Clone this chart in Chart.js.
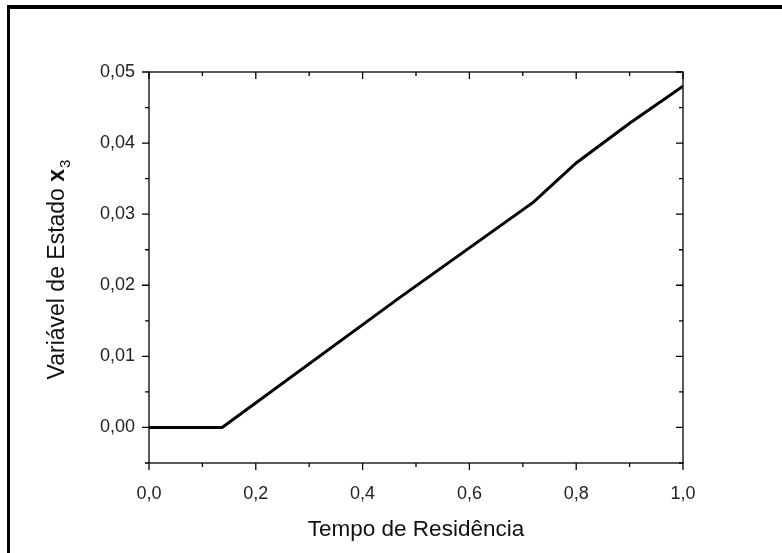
<!DOCTYPE html>
<html lang="pt">
<head>
    <meta charset="UTF-8">
    <title>Variável de Estado x3</title>
    <style>
        html, body {
            margin: 0;
            padding: 0;
            background: #fff;
            overflow: hidden;
        }
        .wrap {
            position: relative;
            width: 782px;
            height: 553px;
        }
        .frame {
            position: absolute;
            left: 7px;
            top: 5px;
            right: -20px;
            bottom: -20px;
            border-left: 3px solid #000;
            border-top: 4px solid #000;
            pointer-events: none;
        }
        canvas {
            position: absolute;
            left: 0;
            top: 0;
        }
    </style>
</head>
<body>
    <div class="wrap">
        <canvas id="chart" width="782" height="553"></canvas>
        <div class="frame"></div>
    </div>

    <script src="https://cdn.jsdelivr.net/npm/chart.js"></script>
    <script>
        // data
        const tempo = [0, 0.137, 0.47, 0.72, 0.8, 0.9, 1.0];
        const x3 = [0, 0, 0.0183, 0.0317, 0.0372, 0.0428, 0.048];

        // axis ticks
        const xMajor = [0, 0.2, 0.4, 0.6, 0.8, 1.0];
        const xMinor = [0.1, 0.3, 0.5, 0.7, 0.9];
        const yMajor = [0, 0.01, 0.02, 0.03, 0.04, 0.05];
        const yMinor = [-0.005, 0.005, 0.015, 0.025, 0.035, 0.045];

        const FONT = "'Liberation Sans', Arial, sans-serif";

        // frame + Origin style ticks (out on left/bottom, in on top/right)
        const framePlugin = {
            id: 'frame',
            afterDraw(chart) {
                const ctx = chart.ctx;
                const a = chart.chartArea;
                const xs = chart.scales.x, ys = chart.scales.y;
                ctx.save();
                ctx.strokeStyle = '#000';
                ctx.lineWidth = 1.3;
                ctx.strokeRect(a.left, a.top, a.right - a.left, a.bottom - a.top);
                ctx.beginPath();
                const tick = (vals, len) => {
                    vals.forEach(v => {
                        const px = xs.getPixelForValue(v);
                        ctx.moveTo(px, a.bottom); ctx.lineTo(px, a.bottom + len);
                        ctx.moveTo(px, a.top); ctx.lineTo(px, a.top + len);
                    });
                };
                tick(xMajor, 7);
                tick(xMinor, 4);
                const ytick = (vals, len) => {
                    vals.forEach(v => {
                        const py = ys.getPixelForValue(v);
                        ctx.moveTo(a.left, py); ctx.lineTo(a.left - len, py);
                        ctx.moveTo(a.right, py); ctx.lineTo(a.right - len, py);
                    });
                };
                ytick(yMajor, 7);
                ytick(yMinor, 4);
                ctx.stroke();

                // y title with bold x and subscript 3
                ctx.translate(58, 270);
                ctx.rotate(-Math.PI / 2);
                ctx.fillStyle = '#111';
                ctx.textBaseline = 'middle';
                const t1 = 'Variável de Estado ';
                ctx.font = '23px ' + FONT;
                const w1 = ctx.measureText(t1).width;
                ctx.font = 'bold 23px ' + FONT;
                const w2 = ctx.measureText('x').width;
                ctx.font = '15px ' + FONT;
                const w3 = ctx.measureText('3').width;
                const x0 = -(w1 + w2 + w3) / 2;
                ctx.font = '23px ' + FONT;
                ctx.fillText(t1, x0, 0);
                ctx.font = 'bold 23px ' + FONT;
                ctx.fillText('x', x0 + w1, 0);
                ctx.font = '15px ' + FONT;
                ctx.fillText('3', x0 + w1 + w2 + 1, 8);
                ctx.restore();
            }
        };

        const fmt = (v, d) => v.toFixed(d).replace('.', ',');

        new Chart(document.getElementById('chart'), {
            type: 'line',
            data: {
                datasets: [{
                    label: 'x3',
                    data: tempo.map((t, i) => ({ x: t, y: x3[i] })),
                    borderColor: '#000',
                    borderWidth: 3,
                    pointRadius: 0,
                    tension: 0,
                    fill: false
                }]
            },
            options: {
                responsive: false,
                animation: false,
                layout: {
                    padding: { left: 0, top: 72, right: 99, bottom: 0 }
                },
                plugins: {
                    legend: { display: false },
                    tooltip: { enabled: false }
                },
                scales: {
                    x: {
                        type: 'linear',
                        min: 0,
                        max: 1,
                        afterBuildTicks: s => { s.ticks = xMajor.map(v => ({ value: v })); },
                        afterFit: s => { s.height = 90; },
                        grid: { display: false },
                        border: { display: false },
                        ticks: {
                            padding: 12,
                            color: '#222',
                            font: { family: FONT, size: 18 },
                            callback: v => fmt(v, 1)
                        },
                        title: {
                            display: true,
                            text: 'Tempo de Residência',
                            color: '#111',
                            font: { family: FONT, size: 22.5 },
                            padding: { top: 4, bottom: 10 }
                        }
                    },
                    y: {
                        type: 'linear',
                        min: -0.005,
                        max: 0.05,
                        afterBuildTicks: s => { s.ticks = yMajor.map(v => ({ value: v })); },
                        afterFit: s => { s.width = 149; },
                        grid: { display: false },
                        border: { display: false },
                        ticks: {
                            padding: 6,
                            color: '#222',
                            font: { family: FONT, size: 18 },
                            callback: v => fmt(v, 2)
                        }
                    }
                }
            },
            plugins: [framePlugin]
        });
    </script>
</body>
</html>
